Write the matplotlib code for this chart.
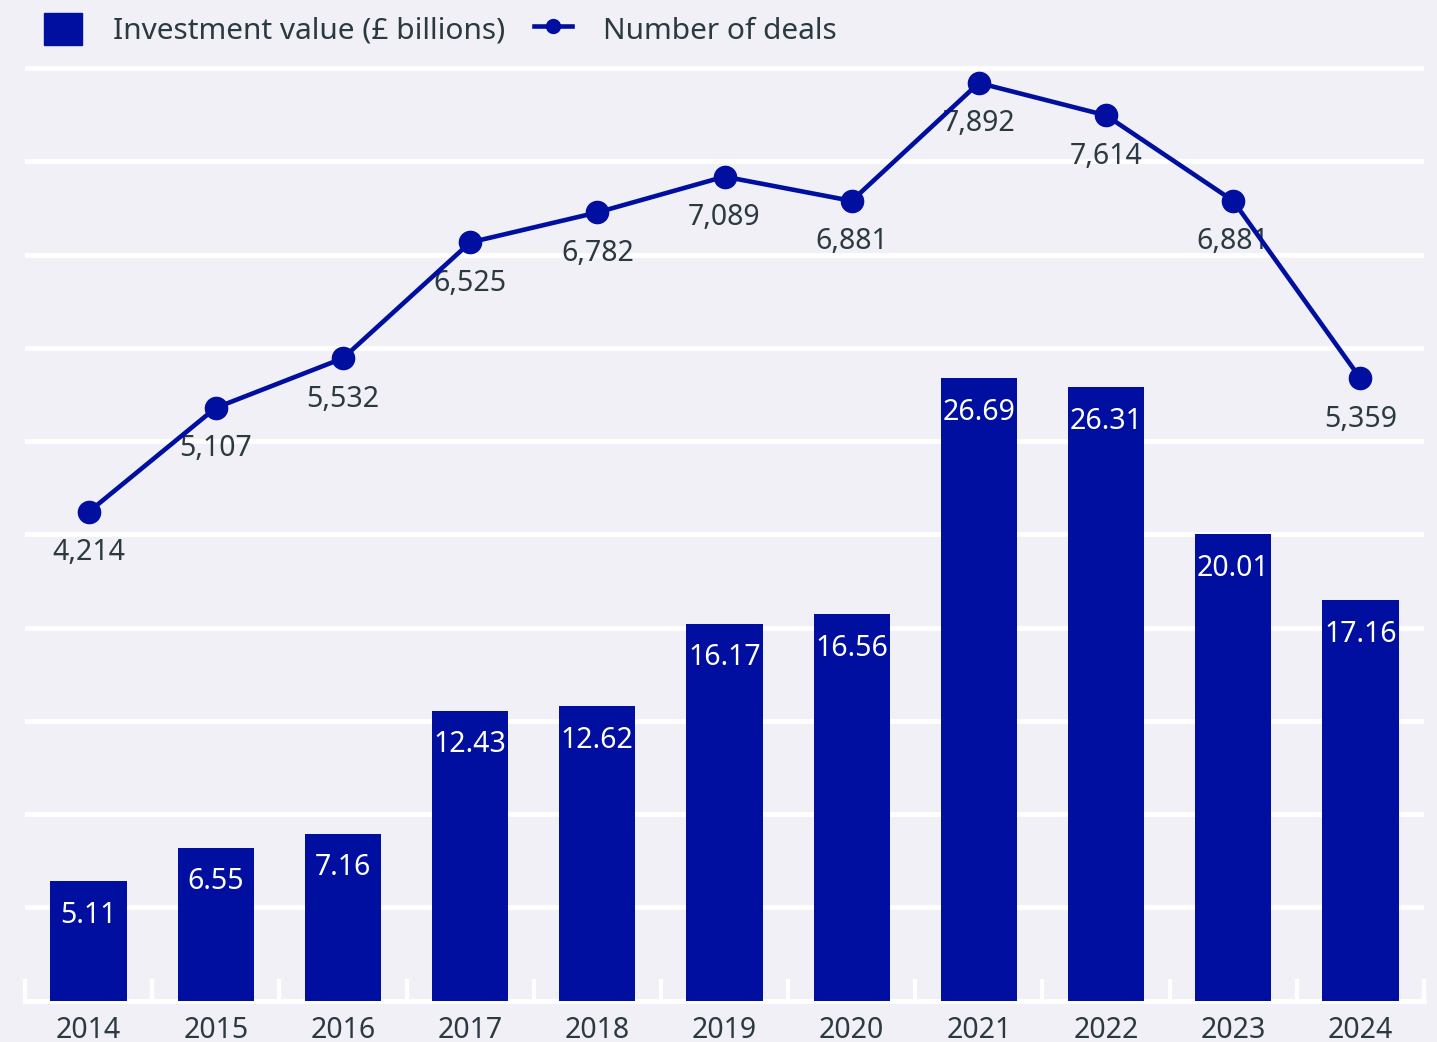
import numpy as np
import matplotlib.pyplot as plt
from matplotlib.patches import Patch
from matplotlib.lines import Line2D

years = ['2014', '2015', '2016', '2017', '2018', '2019', '2020', '2021', '2022', '2023', '2024']
investment = [5.11, 6.55, 7.16, 12.43, 12.62, 16.17, 16.56, 26.69, 26.31, 20.01, 17.16]
deals = [4214, 5107, 5532, 6525, 6782, 7089, 6881, 7892, 7614, 6881, 5359]

bg = '#f0f0f6'
blue = '#000f9f'
txt = '#2b3940'

plt.rcParams['font.family'] = ['Noto Sans', 'DejaVu Sans']
plt.rcParams['font.size'] = 20.5

fig = plt.figure(figsize=(14.37, 10.42), dpi=100, facecolor=bg)
ax = fig.add_axes([25 / 1437, 1 - 1000.5 / 1042, 1399 / 1437, (1000.5 - 44.7) / 1042])
ax.set_facecolor(bg)

x = np.arange(len(years))
ax.bar(x, investment, width=0.6, color=blue, zorder=3)
for xi, v in zip(x, investment):
    ax.annotate(f'{v:.2f}', (xi, v), xytext=(0, -24.5), textcoords='offset points',
                ha='center', va='center', color='white', zorder=4)

ax.set_xlim(-0.5, 10.5)
ax.set_ylim(0, 41)
ax.set_yticks(np.arange(0, 41, 4))
ax.yaxis.grid(True, color='white', linewidth=3.5)
ax.set_axisbelow(True)
ax.tick_params(axis='y', which='both', left=False, right=False, length=0, labelleft=False)
for s in ['top', 'right', 'left']:
    ax.spines[s].set_visible(False)
ax.spines['bottom'].set_color('white')
ax.spines['bottom'].set_linewidth(3.5)

ax.set_xticks(x)
ax.set_xticklabels(years, color=txt)
ax.set_xticks(np.arange(-0.5, 11, 1), minor=True)
ax.tick_params(axis='x', which='major', length=0, pad=11)
ax.tick_params(axis='x', which='minor', direction='in', length=16, width=3, color='white')

# deals axis: zero sits a few px below the bar baseline
ax2 = ax.twinx()
ax2.set_ylim(26, 8220)
ax2.plot(x, deals, color=blue, linewidth=3.3, marker='o', markersize=16, zorder=5)
for xi, v in zip(x, deals):
    ax2.annotate(f'{v:,}', (xi, v), xytext=(0, -29.5), textcoords='offset points',
                 ha='center', va='center', color=txt)
ax2.axis('off')

handles = [Patch(color=blue),
           Line2D([0], [0], color=blue, linewidth=3.3, marker='o', markersize=10)]
fig.legend(handles, ['Investment value (£ billions)', 'Number of deals'],
           loc='upper left', bbox_to_anchor=(29 / 1437, 1 + 2 / 1042), ncol=2,
           frameon=False, handlelength=1.27, handleheight=1.27, handletextpad=1.05,
           columnspacing=0.95, borderpad=0, labelcolor=txt, fontsize=21.5)

fig.savefig('out.png', dpi=100, facecolor=bg)
